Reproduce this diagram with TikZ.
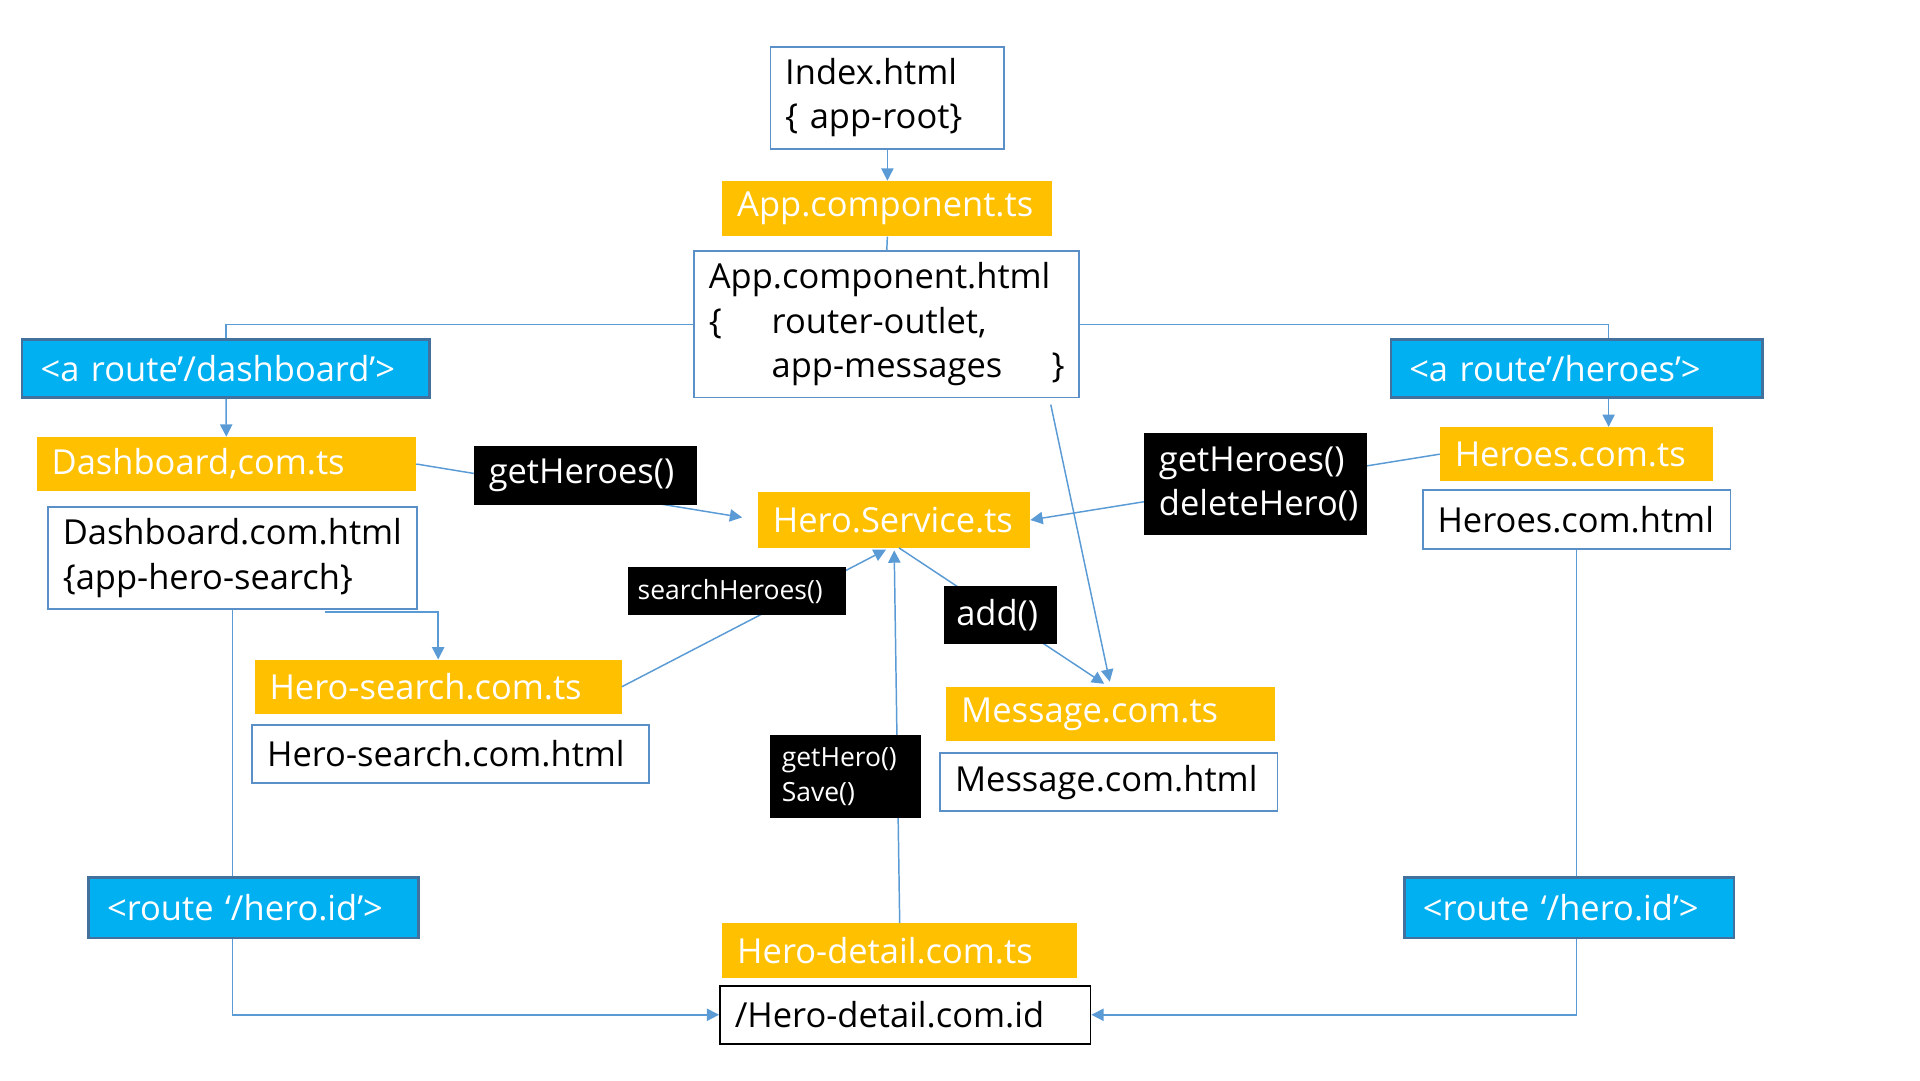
\documentclass[tikz,border=0pt]{standalone}
\usepackage{fontspec}
\setmainfont{Open Sans}
\usepackage{tikz}
\usetikzlibrary{shapes,backgrounds,positioning,arrows.meta}
\definecolor{tsorange}{HTML}{FFC000}
\definecolor{routeblue}{HTML}{00B0F0}
\definecolor{routeedge}{HTML}{41719C}
\definecolor{htmlblue}{HTML}{5B8FC8}
\definecolor{linkblue}{HTML}{5B9BD5}
\newcommand\bigtxt{\fontsize{28}{36}\selectfont}
\newcommand\smalltxt{\fontsize{21.5}{28}\selectfont}
\hyphenpenalty=10000
\exhyphenpenalty=10000
\tikzset{
  base/.style={inner xsep=12pt, inner ysep=0pt, align=left, font=\bigtxt},
  ts/.style={base, fill=tsorange, text=white},
  html/.style={base, draw=htmlblue, line width=1.5pt, fill=white},
  route/.style={base, inner xsep=15pt, fill=routeblue, draw=routeedge, line width=2pt, text=white},
  call/.style={base, fill=black, text=white},
  conn/.style={draw=linkblue, line width=1.2pt}
}
\begin{document}
\begin{tikzpicture}[x=1pt,y=-1pt,>={Triangle[width=10pt,length=10pt]}]
   \useasboundingbox (0,0) rectangle (1560,878);

   \node[html, text width=166pt, minimum height=83pt] (index) at (721,79.5) {Index.html\\\{ app-root\}};
   \node[ts, text width=244pt, minimum height=45pt] (appts) at (721,169.5) {App.component.ts};
   \node[html, text width=289pt, minimum height=119pt] (apphtml) at (720.5,263.5)
      {App.component.html\\\makebox[51pt][l]{\{}router-outlet,\\\hspace*{51pt}app-messages\hfill\}\hspace*{15pt}};

   \node[route, text width=301pt, minimum height=47pt] (rdash) at (183.5,299.5) {<a route’/dashboard’>};
   \node[route, text width=272pt, minimum height=47pt] (rheroes) at (1281,299.5) {<a route’/heroes’>};

   \node[ts, text width=284pt, minimum height=44pt] (dashts) at (184,377) {Dashboard,com.ts};
   \node[html, text width=276pt, minimum height=83pt] (dashhtml) at (189,453.5) {Dashboard.com.html\\\{app-hero-search\}};

   \node[ts, text width=197pt, minimum height=45pt] (service) at (726.5,422.5) {Hero.Service.ts};

   \node[ts, text width=198pt, minimum height=44pt] (heroests) at (1281,369) {Heroes.com.ts};
   \node[html, text width=226pt, minimum height=48pt] (heroeshtml) at (1281,422) {Heroes.com.html};

   \node[ts, text width=274pt, minimum height=44pt] (hsts) at (356,558) {Hero-search.com.ts};
   \node[html, text width=298pt, minimum height=47pt] (hshtml) at (366,612.5) {Hero-search.com.html};

   \node[ts, text width=243pt, minimum height=44pt] (msgts) at (902.5,580) {Message.com.ts};
   \node[html, text width=250pt, minimum height=47pt] (msghtml) at (901,635.5) {Message.com.html};

   \node[route, text width=238pt, minimum height=49pt] (rL) at (206,737.5) {<route ‘/hero.id’>};
   \node[route, text width=238pt, minimum height=49pt] (rR) at (1275,737.5) {<route ‘/hero.id’>};

   \node[ts, text width=264pt, minimum height=45pt] (detts) at (731,772.5) {Hero-detail.com.ts};
   \node[html, draw=black, text width=277pt, minimum height=47pt] (detid) at (735.5,824.5) {/Hero-detail.com.id};

   \coordinate (hjoin) at ([xshift=26pt]rheroes.north);
   \coordinate (hdrop) at ([xshift=26pt]rheroes.south);

   \draw[conn] (appts.south) -- (apphtml.north);
   \draw[conn] (apphtml.west) -| (rdash.north);
   \draw[conn] (apphtml.east) -| (hjoin);
   \draw[conn,->] ([xshift=75pt,yshift=-1.5pt]dashhtml.south) -| (hsts.north);
   \draw[conn] (dashhtml.south) -- (dashhtml.south |- rL.north);
   \draw[conn,->] (dashhtml.south |- rL.south) |- (detid.west);
   \draw[conn] (heroeshtml.south) -- (heroeshtml.south |- rR.north);
   \draw[conn,->] (heroeshtml.south |- rR.south) |- (detid.east);

   \path[->, every edge/.style={conn}]
    (index) edge (appts)
    (rdash) edge (dashts)
    (hdrop) edge (hdrop |- heroests.north)
    (dashts.east) edge [shorten >=13pt] node[call, pos=0.495, yshift=13.5pt, text width=157pt, minimum height=48pt] (gh1) {getHeroes()} (service.west)
    (heroests.west) edge node[call, pos=0.45, text width=157pt, minimum height=83pt] (gh2) {getHeroes()\\deleteHero()} (service.east)
    (hsts.east) edge [shorten >=3pt] node[call, pos=0.43, yshift=29pt, inner xsep=8pt, text width=161pt, minimum height=39pt, font=\smalltxt] (search) {searchHeroes()} ([xshift=-4pt]service.south)
    ([xshift=4pt]service.south) edge [shorten >=4pt] node[call, pos=0.485, inner xsep=10pt, text width=72pt, minimum height=47pt] (add) {add()} ([xshift=-2pt]msgts.north)
    ([xshift=-24pt,yshift=-5pt]apphtml.south east) edge [shorten >=4pt] (msgts.north)
    (detts.north) edge [shorten >=2pt] node[call, pos=0.39, xshift=-42.5pt, inner xsep=10pt, text width=103pt, minimum height=67pt, font=\smalltxt] (getsave) {getHero()\\Save()} (service.south);
\end{tikzpicture}
\end{document}
